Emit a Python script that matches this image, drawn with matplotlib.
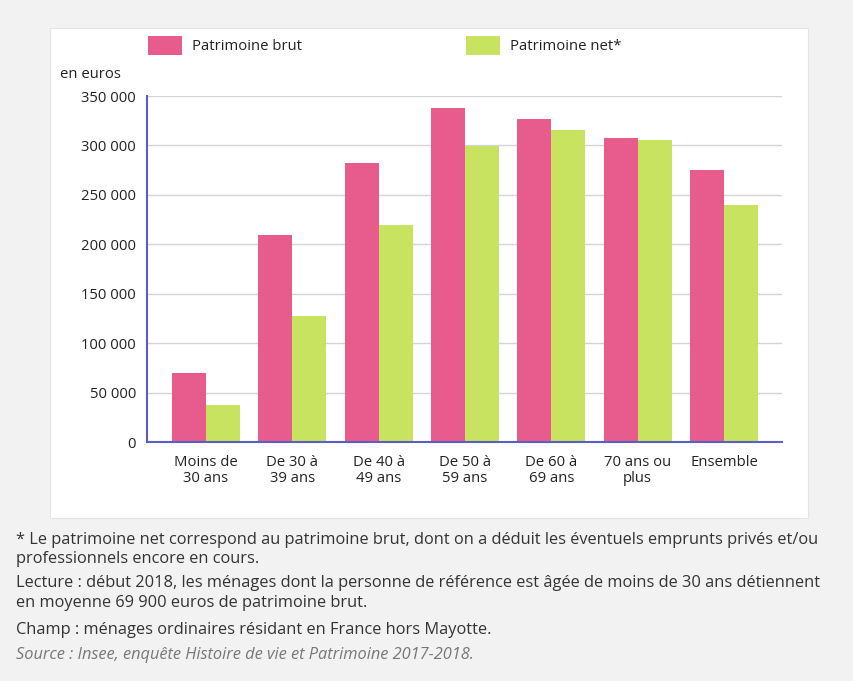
import matplotlib.pyplot as plt
from matplotlib.patches import Rectangle
import numpy as np

categories = ["Moins de\n30 ans", "De 30 à\n39 ans", "De 40 à\n49 ans", "De 50 à\n59 ans",
              "De 60 à\n69 ans", "70 ans ou\nplus", "Ensemble"]
brut = [69900, 209500, 282300, 337800, 326600, 307500, 275100]
net = [37800, 127600, 219500, 299300, 315500, 305400, 239700]
yticks = [0, 50000, 100000, 150000, 200000, 250000, 300000, 350000]

PINK = "#e75b8d"
GREEN = "#c8e35f"
AXIS = "#5a5fc8"
TEXT = "#222222"

plt.rcParams["font.family"] = ["Open Sans", "DejaVu Sans"]

W, H = 854, 681
fig = plt.figure(figsize=(W / 100, H / 100), dpi=100)
fig.patch.set_facecolor("#f2f2f2")

# white card behind the chart
fig.patches.append(Rectangle((50 / W, 1 - 518 / H), 758 / W, 490 / H,
                             transform=fig.transFigure, facecolor="white",
                             edgecolor="#e4e4e4", linewidth=0.8, zorder=-10))

ax = fig.add_axes([147 / W, 1 - 442 / H, 635 / W, 346 / H])
ax.set_facecolor("white")
x = np.arange(len(categories))
w = 0.394
ax.bar(x - w / 2, brut, w, color=PINK, zorder=3)
ax.bar(x + w / 2, net, w, color=GREEN, zorder=3)

ax.set_xlim(-0.684, len(categories) - 0.328)
ax.set_ylim(0, 350000)
ax.set_yticks(yticks)
ax.set_yticklabels([f"{v:,}".replace(",", " ") for v in yticks], fontsize=10.7, color=TEXT)
ax.set_xticks(x)
ax.set_xticklabels(categories, fontsize=10.7, color=TEXT, linespacing=1.15)
ax.tick_params(axis="x", length=0, pad=9)
ax.tick_params(axis="y", length=0, pad=8)
ax.grid(axis="y", color="#d4d4d4", linewidth=1, zorder=0)
for side in ["top", "right"]:
    ax.spines[side].set_visible(False)
for side in ["left", "bottom"]:
    ax.spines[side].set_color(AXIS)
    ax.spines[side].set_linewidth(1.5)
    ax.spines[side].set_zorder(4)

# legend
for x0, col, label in [(148, PINK, "Patrimoine brut"), (466, GREEN, "Patrimoine net*")]:
    fig.patches.append(Rectangle((x0 / W, 1 - 55 / H), 34 / W, 19 / H,
                                 transform=fig.transFigure, facecolor=col, edgecolor="none"))
    fig.text((x0 + 44) / W, 1 - 46 / H, label, fontsize=10.7, color=TEXT, va="center")

fig.text(60 / W, 1 - 74 / H, "en euros", fontsize=10.7, color=TEXT, va="center")

notes = [
    (540, "* Le patrimoine net correspond au patrimoine brut, dont on a déduit les éventuels emprunts privés et/ou", "normal"),
    (559, "professionnels encore en cours.", "normal"),
    (583, "Lecture : début 2018, les ménages dont la personne de référence est âgée de moins de 30 ans détiennent", "normal"),
    (603, "en moyenne 69 900 euros de patrimoine brut.", "normal"),
    (630, "Champ : ménages ordinaires résidant en France hors Mayotte.", "normal"),
    (655, "Source : Insee, enquête Histoire de vie et Patrimoine 2017-2018.", "italic"),
]
for y, txt, style in notes:
    fig.text(16 / W, 1 - y / H, txt, fontsize=11.8, va="center",
             color="#777777" if style == "italic" else "#333333", style=style)

fig.savefig("out.png", dpi=100, facecolor=fig.get_facecolor())
